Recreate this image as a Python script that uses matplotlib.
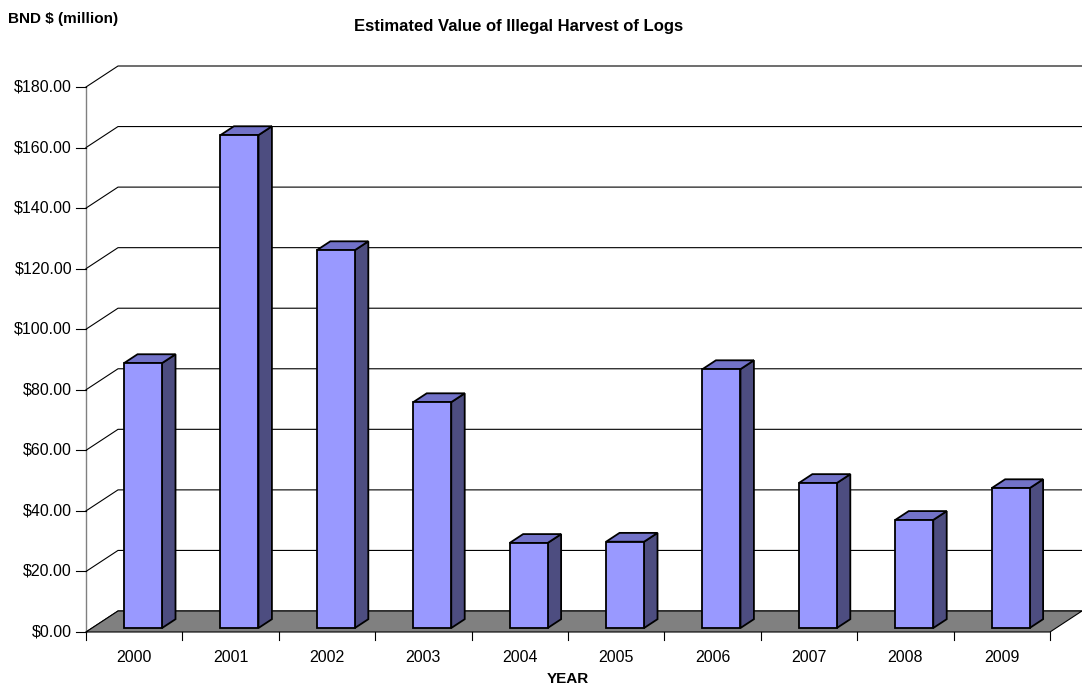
import numpy as np
import matplotlib
matplotlib.use("Agg")
import matplotlib.pyplot as plt
from matplotlib.patches import Polygon

years = ["2000", "2001", "2002", "2003", "2004", "2005", "2006", "2007", "2008", "2009"]
values = [87.5, 162.8, 124.8, 74.6, 28.1, 28.5, 85.5, 47.9, 35.7, 46.2]
yticks = [0, 20, 40, 60, 80, 100, 120, 140, 160, 180]
ytick_labels = ["$%.2f" % v for v in yticks]

FRONT = "#9999FF"
TOP = "#7272C8"
SIDE = "#4D4D80"
FLOOR = "#808080"

# 3d look: depth offset in data units
DX = 0.332
DY = 6.94
F0, F1 = 0.19, 0.61
BAR_LEFT = 0.332
BAR_W = 0.394

plt.rcParams['font.family'] = ['Liberation Sans', 'DejaVu Sans']

fig = plt.figure(figsize=(10.82, 6.87), dpi=100)
ax = fig.add_axes([86 / 1082, 55 / 687, (1082 - 86) / 1082, (632 - 66) / 687])
ax.set_xlim(0, len(years) + DX)
ax.set_ylim(0, 180 + DY)
ax.axis("off")

n = len(years)

# left wall edge + back wall gridlines
ax.plot([0, 0], [0, 180], color="#808080", lw=1, clip_on=False, zorder=1)
for v in yticks:
    ax.plot([0, DX, n + DX], [v, v + DY, v + DY], color="black", lw=0.8, clip_on=False, zorder=1)
    ax.plot([0, -0.1], [v, v], color="black", lw=0.8, clip_on=False)

# floor
floor = Polygon([(0, 0), (n, 0), (n + DX, DY), (DX, DY)], closed=True,
                facecolor=FLOOR, edgecolor="black", lw=0.8, zorder=2, clip_on=False)
ax.add_patch(floor)

# bars
for i, v in enumerate(values):
    x0 = i + BAR_LEFT + F0 * DX
    y0 = F0 * DY
    dx = (F1 - F0) * DX
    dy = (F1 - F0) * DY
    ax.bar(x0, v, width=BAR_W, bottom=y0, align="edge", color=FRONT,
           edgecolor="black", lw=1.3, zorder=4)
    side = Polygon([(x0 + BAR_W, y0), (x0 + BAR_W + dx, y0 + dy),
                    (x0 + BAR_W + dx, y0 + v + dy), (x0 + BAR_W, y0 + v)],
                   closed=True, facecolor=SIDE, edgecolor="black", lw=1.3, zorder=3)
    top = Polygon([(x0, y0 + v), (x0 + dx, y0 + v + dy),
                   (x0 + BAR_W + dx, y0 + v + dy), (x0 + BAR_W, y0 + v)],
                  closed=True, facecolor=TOP, edgecolor="black", lw=1.3, zorder=3)
    ax.add_patch(side)
    ax.add_patch(top)

# x ticks on category boundaries
for i in range(n + 1):
    ax.plot([i, i], [0, -2.5], color="black", lw=0.8, clip_on=False)

for i, y in enumerate(years):
    ax.text(i + 0.5, -8.5, y, ha="center", va="center", fontsize=11.5)

for v, lab in zip(yticks, ytick_labels):
    ax.text(-0.145, v, lab, ha="right", va="center", fontsize=11.5)

fig.text(568 / 1082, 1 - 679 / 687, "YEAR", ha="center", va="center",
         fontsize=11, fontweight="bold")
fig.text(519 / 1082, 1 - 26 / 687, "Estimated Value of Illegal Harvest of Logs",
         ha="center", va="center", fontsize=12, fontweight="bold")
fig.text(8 / 1082, 1 - 19 / 687, "BND $ (million)", ha="left", va="center",
         fontsize=11, fontweight="bold")

fig.savefig("out.png", dpi=100)
